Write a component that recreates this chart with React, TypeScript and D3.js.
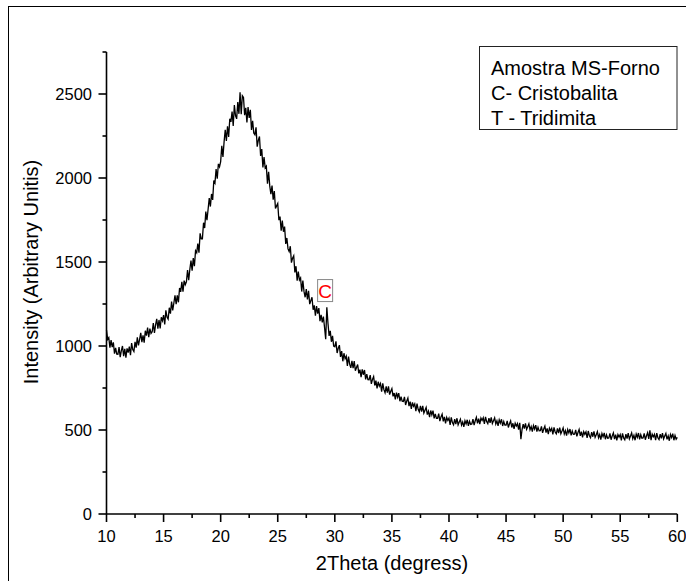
import React from "react";
import * as d3 from "d3";

// 2Theta start and step of the recorded scan (degrees)
const thetaStart = 10;
const thetaStep = 0.1;

// Intensity values, one row per degree (x.0 .. x.9)
const intensity: number[] = [
  1095, 1039, 1050, 990, 1035, 993, 1022, 954, 989, 952,
  951, 993, 933, 972, 1000, 940, 983, 930, 986, 961,
  996, 945, 1017, 979, 967, 1025, 990, 1051, 1003, 1039,
  1078, 1023, 1063, 1020, 1091, 1062, 1110, 1052, 1103, 1075,
  1085, 1136, 1078, 1126, 1162, 1103, 1155, 1104, 1171, 1150,
  1184, 1128, 1212, 1172, 1160, 1228, 1192, 1264, 1212, 1256,
  1302, 1249, 1301, 1260, 1345, 1322, 1382, 1324, 1389, 1365,
  1382, 1452, 1392, 1457, 1509, 1448, 1523, 1475, 1567, 1555,
  1609, 1556, 1671, 1638, 1638, 1734, 1702, 1800, 1749, 1814,
  1880, 1830, 1905, 1870, 1985, 1970, 2053, 1996, 2084, 2067,
  2098, 2192, 2126, 2215, 2287, 2221, 2308, 2245, 2353, 2334,
  2396, 2310, 2434, 2372, 2352, 2452, 2382, 2510, 2380, 2490,
  2480, 2374, 2418, 2330, 2422, 2358, 2406, 2286, 2340, 2268,
  2258, 2302, 2186, 2225, 2247, 2131, 2172, 2063, 2125, 2060,
  2070, 1966, 2037, 1953, 1904, 1955, 1871, 1922, 1818, 1834,
  1848, 1749, 1770, 1686, 1746, 1680, 1711, 1608, 1643, 1578,
  1562, 1594, 1496, 1523, 1537, 1438, 1475, 1389, 1443, 1393,
  1405, 1324, 1390, 1325, 1290, 1339, 1277, 1328, 1249, 1270,
  1290, 1216, 1242, 1180, 1238, 1192, 1226, 1148, 1186, 1140,
  1175, 1110, 1040, 1230, 1135, 1060, 1090, 1025, 1060, 1000,
  996, 1028, 958, 987, 1005, 935, 970, 909, 957, 924,
  939, 882, 937, 892, 870, 912, 868, 910, 853, 872,
  890, 837, 859, 815, 861, 829, 857, 801, 832, 800,
  799, 827, 775, 801, 818, 765, 794, 747, 787, 762,
  777, 728, 777, 740, 722, 760, 722, 760, 711, 730,
  746, 700, 720, 682, 722, 695, 719, 671, 698, 671,
  670, 697, 649, 673, 690, 642, 669, 626, 664, 641,
  655, 612, 657, 623, 608, 643, 609, 644, 601, 618,
  635, 592, 612, 576, 616, 590, 615, 569, 596, 570,
  570, 597, 553, 578, 594, 551, 578, 540, 575, 557,
  571, 531, 575, 544, 531, 565, 535, 570, 531, 548,
  564, 529, 548, 519, 555, 536, 561, 524, 552, 533,
  536, 565, 529, 555, 575, 540, 567, 535, 571, 557,
  573, 537, 578, 550, 538, 570, 543, 575, 539, 555,
  572, 536, 555, 525, 561, 541, 564, 524, 550, 529,
  529, 554, 515, 537, 554, 515, 540, 506, 540, 524,
  538, 502, 543, 445, 503, 535, 508, 540, 504, 520,
  537, 501, 520, 490, 526, 506, 529, 490, 516, 495,
  496, 522, 483, 506, 523, 485, 510, 476, 511, 495,
  510, 474, 516, 488, 477, 509, 482, 514, 478, 494,
  512, 476, 496, 466, 503, 483, 506, 468, 494, 474,
  475, 501, 462, 485, 503, 465, 490, 456, 490, 474,
  489, 453, 494, 466, 454, 487, 460, 492, 456, 472,
  490, 454, 473, 443, 479, 460, 483, 445, 471, 451,
  453, 480, 442, 465, 483, 446, 472, 439, 473, 458,
  473, 438, 480, 453, 442, 475, 449, 482, 447, 464,
  483, 448, 468, 439, 476, 457, 482, 444, 472, 451,
  453, 480, 442, 466, 484, 447, 498, 440, 475, 460,
  474, 439, 481, 454, 443, 475, 450, 482, 447, 464,
  480, 444, 465, 436, 473, 455, 478, 439, 467, 445,
  456,
];

const xMajorTicks = [10, 15, 20, 25, 30, 35, 40, 45, 50, 55, 60];
const xMinorTicks = [12.5, 17.5, 22.5, 27.5, 32.5, 37.5, 42.5, 47.5, 52.5, 57.5];
const yMajorTicks = [0, 500, 1000, 1500, 2000, 2500];
const yMinorTicks = [250, 750, 1250, 1750, 2250, 2750];

const legendLines = ["Amostra MS-Forno", "C- Cristobalita", "T - Tridimita"];
const peakLabel = { text: "C", theta: 29.15, value: 1330 };

const xTitle = "2Theta (degress)";
const yTitle = "Intensity (Arbitrary Unitis)";

const FONT = "'Liberation Sans', Arial, Helvetica, sans-serif";

export default function App() {
  const W = 686;
  const H = 581;
  const x = d3.scaleLinear().domain([10, 60]).range([106.5, 677.3]);
  const y = d3.scaleLinear().domain([0, 2750]).range([514, 52]);

  const points: [number, number][] = intensity.map((v, i) => [thetaStart + i * thetaStep, v]);
  const line = d3
    .line<[number, number]>()
    .x((d) => x(d[0]))
    .y((d) => y(d[1]));

  const axisColor = "#000";
  const axisW = 1.6;
  const x0 = x(10);
  const y0 = y(0);

  const lx = x(peakLabel.theta);
  const ly = y(peakLabel.value);

  return (
    <svg
      width={W}
      height={H}
      style={{ position: "absolute", left: 0, top: 0, background: "#fff" }}
      fontFamily={FONT}
    >
      <rect x={0} y={0} width={W} height={H} fill="#fff" />
      {/* outer frame */}
      <rect x={8.5} y={6.5} width={720} height={620} fill="none" stroke="#000" strokeWidth={1} />

      {/* data */}
      <path d={line(points) || ""} fill="none" stroke="#000" strokeWidth={1.3} strokeLinejoin="miter" />

      {/* y axis */}
      <line x1={x0} x2={x0} y1={y(2750)} y2={y0} stroke={axisColor} strokeWidth={axisW} />
      {yMajorTicks.map((t) => (
        <g key={"ym" + t}>
          <line x1={x0 - 8} x2={x0} y1={y(t)} y2={y(t)} stroke={axisColor} strokeWidth={axisW} />
          <text x={92} y={y(t)} dy="0.35em" textAnchor="end" fontSize={16.5} fill="#000">
            {t}
          </text>
        </g>
      ))}
      {yMinorTicks.map((t) => (
        <line key={"yn" + t} x1={x0 - 4} x2={x0} y1={y(t)} y2={y(t)} stroke={axisColor} strokeWidth={axisW} />
      ))}

      {/* x axis */}
      <line x1={x0} x2={x(60)} y1={y0} y2={y0} stroke={axisColor} strokeWidth={axisW} />
      {xMajorTicks.map((t) => (
        <g key={"xm" + t}>
          <line x1={x(t)} x2={x(t)} y1={y0} y2={y0 + 8} stroke={axisColor} strokeWidth={axisW} />
          <text x={x(t)} y={542} textAnchor="middle" fontSize={16.5} fill="#000">
            {t}
          </text>
        </g>
      ))}
      {xMinorTicks.map((t) => (
        <line key={"xn" + t} x1={x(t)} x2={x(t)} y1={y0} y2={y0 + 4} stroke={axisColor} strokeWidth={axisW} />
      ))}

      {/* axis titles */}
      <text x={392} y={570} textAnchor="middle" fontSize={20} fill="#000">
        {xTitle}
      </text>
      <text transform="translate(38,272) rotate(-90)" textAnchor="middle" fontSize={20} fill="#000">
        {yTitle}
      </text>

      {/* legend */}
      <rect x={479.5} y={46.5} width={197.5} height={83} fill="#fff" stroke="#222" strokeWidth={1} />
      {legendLines.map((s, i) => (
        <text key={s} x={491} y={75 + i * 25} fontSize={20} fill="#000">
          {s}
        </text>
      ))}

      {/* peak label */}
      <rect x={lx - 7.5} y={ly - 11} width={15} height={22} fill="#fff" stroke="#888" strokeWidth={1} />
      <text x={lx} y={ly + 7} textAnchor="middle" fontSize={19} fill="#ff0000">
        {peakLabel.text}
      </text>
    </svg>
  );
}
